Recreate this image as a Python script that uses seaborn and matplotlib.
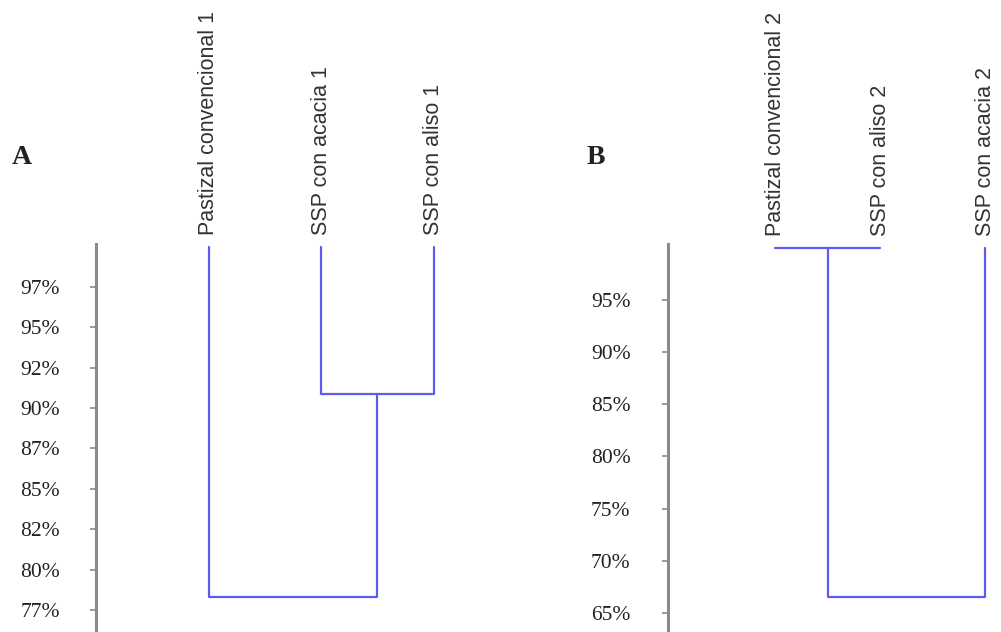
import matplotlib
matplotlib.use("Agg")
import matplotlib.pyplot as plt
import seaborn as sns
import pandas as pd
import numpy as np

# ---------------- data ----------------
a_leaves = ["Pastizal convencional 1", "SSP con acacia 1", "SSP con aliso 1"]
# merges (left child, right child, similarity %); index >= n refers to earlier clusters
a_merges = [(1, 2, 90.9), (0, 3, 78.3)]
a_ticks = [77.5, 80, 82.5, 85, 87.5, 90, 92.5, 95, 97.5]
a_ticklabels = ["77%", "80%", "82%", "85%", "87%", "90%", "92%", "95%", "97%"]

b_leaves = ["Pastizal convencional 2", "SSP con aliso 2", "SSP con acacia 2"]
b_merges = [(0, 1, 100.0), (3, 2, 66.5)]
b_ticks = [65, 70, 75, 80, 85, 90, 95]
b_ticklabels = ["65%", "70%", "75%", "80%", "85%", "90%", "95%"]

leaf_height = 100.0

# ---------------- style ----------------
sns.set_theme(style="white")
plt.rcParams["font.family"] = ["Liberation Serif", "DejaVu Serif"]

LINE = "#5c5cf5"
AXIS = "#8a8a8a"
TEXT = "#333333"

W, H = 1001, 632
fig = plt.figure(figsize=(W / 100, H / 100), dpi=100)


def link_table(leaves, merges):
    n = len(leaves)
    xs = {i: 5 + 10 * i for i in range(n)}
    hs = {i: leaf_height for i in range(n)}
    rows = []
    for k, (l, r, h) in enumerate(merges):
        pts = [(xs[l], hs[l]), (xs[l], h), (xs[r], h), (xs[r], hs[r])]
        for j, (x, y) in enumerate(pts):
            rows.append({"link": k, "order": j, "x": x, "y": y})
        xs[n + k] = (xs[l] + xs[r]) / 2
        hs[n + k] = h
    return pd.DataFrame(rows), [xs[i] for i in range(n)]


def draw(ax, leaves, merges, ticks, ticklabels, xlim, ylim, pad):
    df, leaf_x = link_table(leaves, merges)
    sns.lineplot(data=df, x="x", y="y", units="link", estimator=None, sort=False,
                 color=LINE, linewidth=1.6, ax=ax, legend=False)
    for ln in ax.lines:
        ln.set_clip_on(False)
    ax.set_xlim(*xlim)
    ax.set_ylim(*ylim)
    ax.set_xticks([])
    ax.set_yticks(ticks)
    ax.set_yticklabels(ticklabels)
    ax.set_xlabel("")
    ax.set_ylabel("")
    for s in ["top", "right", "bottom"]:
        ax.spines[s].set_visible(False)
    ax.spines["left"].set_color(AXIS)
    ax.spines["left"].set_linewidth(2.2)
    ax.tick_params(axis="y", which="major", left=True, direction="out", length=4,
                   width=1.2, color=AXIS, pad=pad, labelsize=15.5, labelcolor="#222222")
    ax.patch.set_alpha(0)
    for x, lab in zip(leaf_x, leaves):
        ax.annotate(lab, xy=(x, leaf_height), xytext=(0, 8.5), textcoords="offset points",
                    rotation=90, ha="center", va="bottom", color=TEXT, fontsize=15.5,
                    family=["Liberation Sans", "DejaVu Sans"],
                    annotation_clip=False)


top = (H - 244) / H
axA = fig.add_axes([96 / W, 0, (490 - 96) / W, top])
draw(axA, a_leaves, a_merges, a_ticks, a_ticklabels, (-5, 30), (76.14, 100.16), 22)

axB = fig.add_axes([668 / W, 0, (1000 - 668) / W, top])
draw(axB, b_leaves, b_merges, b_ticks, b_ticklabels, (-5.2, 26.4), (63.18, 100.36), 23)

fig.text(22 / W, 1 - 158 / H, "A", ha="center", va="center", fontsize=20,
         fontweight="bold", color="#222222")
fig.text(596 / W, 1 - 158 / H, "B", ha="center", va="center", fontsize=20,
         fontweight="bold", color="#222222")

fig.savefig("out.png", dpi=100)
